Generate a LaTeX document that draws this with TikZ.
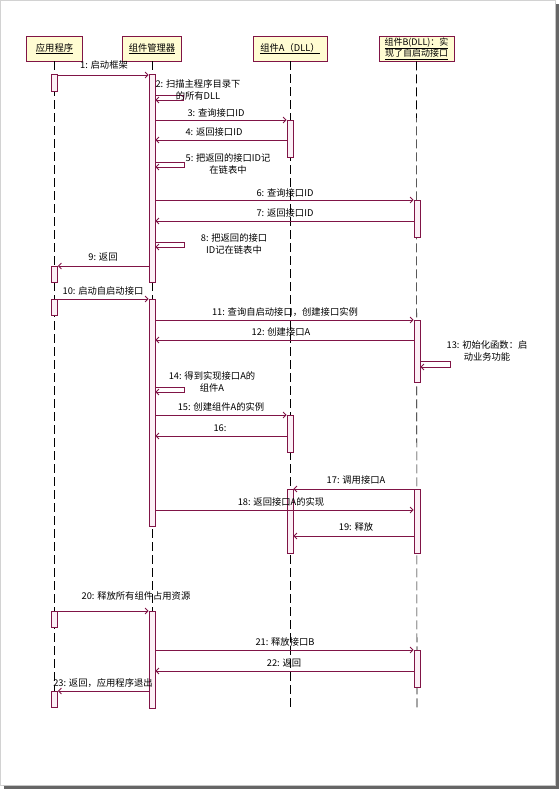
\documentclass[tikz,border=0pt]{standalone}
\usepackage{fontspec}
\newfontfamily\cjk{Noto Sans CJK SC}
\usetikzlibrary{arrows.meta}
\definecolor{rose}{RGB}{128,20,70}
\definecolor{boxfill}{RGB}{255,252,210}
\definecolor{actfill}{RGB}{252,240,246}
\begin{document}
\begin{tikzpicture}[x=1pt,y=-1pt,
  font=\cjk\fontsize{9.3}{12}\selectfont,
  obj/.style={draw=rose, fill=boxfill, line width=0.8pt, minimum height=25pt, inner sep=1pt, align=center},
  life/.style={draw=black, line width=0.6pt, dash pattern=on 9pt off 4pt},
  act/.style={draw=rose, fill=actfill, line width=0.8pt, minimum width=6pt, inner sep=0pt},
  msg/.style={draw=rose, line width=0.8pt, -{Straight Barb[length=3pt,width=6pt]}},
  lbl/.style={inner sep=0pt, align=center, font=\cjk\fontsize{9.3}{12.5}\selectfont}]
\useasboundingbox (0,0) rectangle (559,789);
% page frame and shadow
\fill[white] (0,0) rectangle (555,785);
\draw[gray!35, line width=0.6pt] (0.3,0.3) rectangle (555,785);
\fill[gray!80!black] (555,4) rectangle (559,789);
\fill[gray!80!black] (4,785) rectangle (559,789);
\fill[gray!45] (555,3) rectangle (556,786);
\fill[gray!45] (3,785) rectangle (556,786);

% objects
\node[obj, minimum width=56pt] (app) at (54.5,48.5) {\underline{应用程序}};
\node[obj, minimum width=59pt] (mgr) at (152,48.5) {\underline{组件管理器}};
\node[obj, minimum width=74pt] (cA) at (290,48.5) {\underline{组件A（DLL）}};
\node[obj, minimum width=75pt, font=\cjk\fontsize{9}{10.5}\selectfont] (cB) at (416.5,48.5) {\underline{组件B(DLL)：实}\\[-0.5pt]\underline{现了自启动接口}};

% lifelines
\coordinate (appE) at (54.5,711);
\coordinate (mgrE) at (152,711);
\coordinate (cAE) at (290,711);
\coordinate (cBE) at (417,711);
\draw[life] (app.south) -- (appE);
\draw[life] (mgr.south) -- (mgrE);
\draw[life] (cA.south) -- (cAE);
\draw[life] (cB.south |- app.south) -- (cBE);

% activation bars
\node[act, minimum height=17pt] (app1) at (54.5,82.5) {};
\node[act, minimum height=208pt] (mgr1) at (152,178) {};
\node[act, minimum height=37pt] (a1) at (290,138.5) {};
\node[act, minimum height=37pt] (b1) at (417,218.5) {};
\node[act, minimum height=16pt] (app2) at (54.5,274) {};
\node[act, minimum height=16pt] (app3) at (54.5,307) {};
\node[act, minimum height=227pt] (mgr2) at (152,412.5) {};
\node[act, minimum height=62pt] (b2) at (417,351) {};
\node[act, minimum height=37pt] (a2) at (290,433.5) {};
\node[act, minimum height=64pt] (a3) at (290,521) {};
\node[act, minimum height=64pt] (b3) at (417,521) {};
\node[act, minimum height=16pt] (app4) at (54.5,619) {};
\node[act, minimum height=97pt] (mgr3) at (152,659.5) {};
\node[act, minimum height=37pt] (b4) at (417,668.5) {};
\node[act, minimum height=16pt] (app5) at (54.5,699) {};

% messages
\draw[msg] (app1.east |- 0,75) -- (mgr1.west |- 0,75);
\node[lbl] (l1) at (104,65) {1: 启动框架};

\draw[msg] (mgr1.east |- 0,95) -- ++(28,0) -- ++(0,5) -- (mgr1.east |- 0,100);
\node[lbl] (l2) at (198,90) {2: 扫描主程序目录下\\的所有DLL};

\draw[msg] (mgr1.east |- 0,120) -- (a1.west |- 0,120);
\node[lbl] (l3) at (216,113) {3: 查询接口ID};

\draw[msg] (a1.west |- 0,140) -- (mgr1.east |- 0,140);
\node[lbl] (l4) at (214,132) {4: 返回接口ID};

\draw[msg] (mgr1.east |- 0,162) -- ++(29,0) -- ++(0,5) -- (mgr1.east |- 0,167);
\node[lbl] (l5) at (228,164) {5: 把返回的接口ID记\\在链表中};

\draw[msg] (mgr1.east |- 0,200) -- (b1.west |- 0,200);
\node[lbl] (l6) at (285,193) {6: 查询接口ID};

\draw[msg] (b1.west |- 0,221) -- (mgr1.east |- 0,221);
\node[lbl] (l7) at (285,213) {7: 返回接口ID};

\draw[msg] (mgr1.east |- 0,242) -- ++(29,0) -- ++(0,5) -- (mgr1.east |- 0,247);
\node[lbl] (l8) at (234,244) {8: 把返回的接口\\ID记在链表中};

\draw[msg] (mgr1.west |- 0,266) -- (app2.east |- 0,266);
\node[lbl] (l9) at (103,257) {9: 返回};

\draw[msg] (app3.east |- 0,299) -- (mgr2.west |- 0,299);
\node[lbl] (l10) at (103,291) {10: 启动自启动接口};

\draw[msg] (mgr2.east |- 0,320) -- (b2.west |- 0,320);
\node[lbl] (l11) at (285,312) {11: 查询自启动接口，创建接口实例};

\draw[msg] (b2.west |- 0,340) -- (mgr2.east |- 0,340);
\node[lbl] (l12) at (281,332) {12: 创建接口A};

\draw[msg] (b2.east |- 0,361) -- ++(30,0) -- ++(0,6) -- (b2.east |- 0,367);
\node[lbl] (l13) at (487,351) {13: 初始化函数：启\\动业务功能};

\draw[msg] (mgr2.east |- 0,387) -- ++(29,0) -- ++(0,5) -- (mgr2.east |- 0,392);
\node[lbl] (l14) at (212,382) {14: 得到实现接口A的\\组件A};

\draw[msg] (mgr2.east |- 0,415) -- (a2.west |- 0,415);
\node[lbl] (l15) at (221,407) {15: 创建组件A的实例};

\draw[msg] (a2.west |- 0,436) -- (mgr2.east |- 0,436);
\node[lbl] (l16) at (220,428) {16:};

\draw[msg] (b3.west |- 0,489) -- (a3.east |- 0,489);
\node[lbl] (l17) at (356,480) {17: 调用接口A};

\draw[msg] (mgr2.east |- 0,510) -- (b3.west |- 0,510);
\node[lbl] (l18) at (281,502) {18: 返回接口A的实现};

\draw[msg] (b3.west |- 0,536) -- (a3.east |- 0,536);
\node[lbl] (l19) at (356,527) {19: 释放};

\draw[msg] (app4.east |- 0,611) -- (mgr3.west |- 0,611);
\node[lbl] (l20) at (136,596) {20: 释放所有组件占用资源};

\draw[msg] (mgr3.east |- 0,650) -- (b4.west |- 0,650);
\node[lbl] (l21) at (285,642) {21: 释放接口B};

\draw[msg] (b4.west |- 0,671) -- (mgr3.east |- 0,671);
\node[lbl] (l22) at (284,663) {22: 返回};

\draw[msg] (mgr3.west |- 0,691) -- (app5.east |- 0,691);
\node[lbl] (l23) at (103,683) {23: 返回，应用程序退出};
\end{tikzpicture}
\end{document}
